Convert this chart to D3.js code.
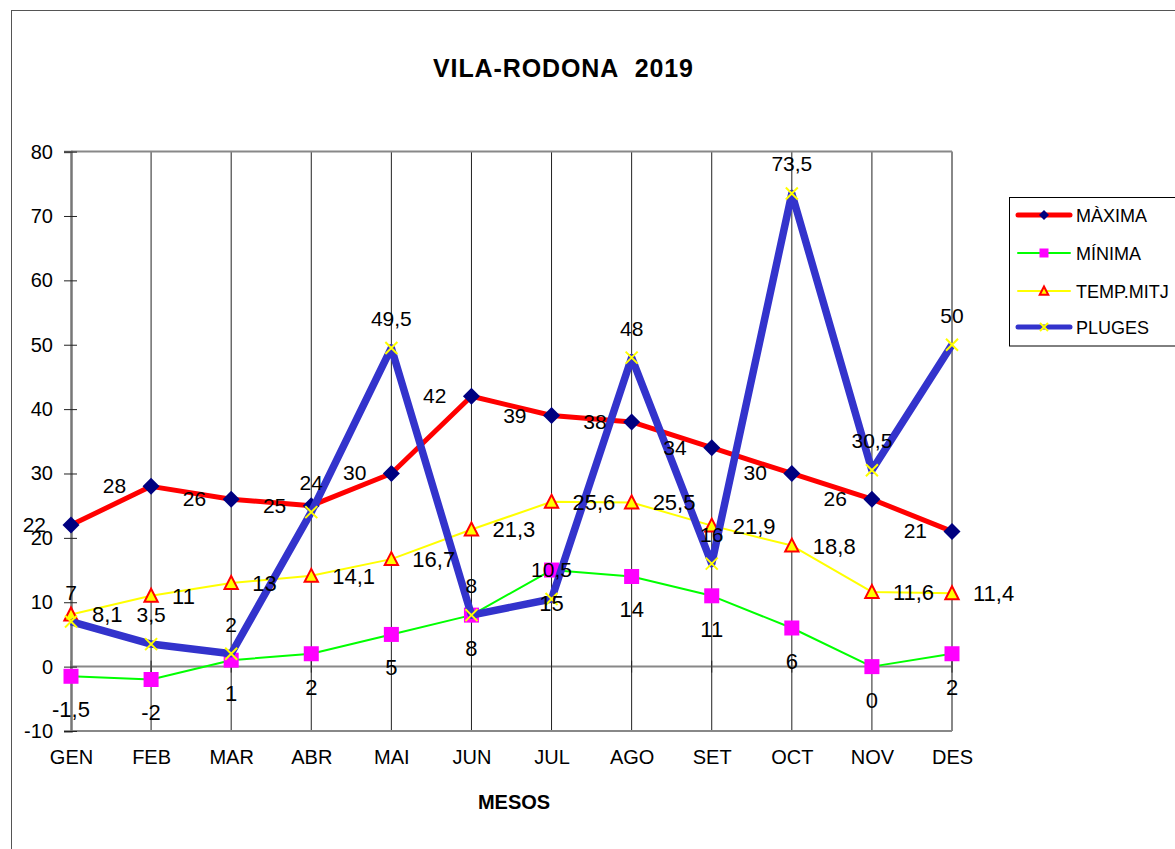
<!DOCTYPE html>
<html>
<head>
<meta charset="utf-8">
<script src="https://cdn.jsdelivr.net/npm/d3@7"></script>
<style>
  html, body { margin: 0; padding: 0; background: #fff; }
  svg { display: block; font-family: "Liberation Sans", Arial, sans-serif; }
</style>
</head>
<body>
<svg id="chart" width="1175" height="849"></svg>
<script>
const months = ["GEN","FEB","MAR","ABR","MAI","JUN","JUL","AGO","SET","OCT","NOV","DES"];
const maxima = [22, 28, 26, 25, 30, 42, 39, 38, 34, 30, 26, 21];
const minima = [-1.5, -2, 1, 2, 5, 8, 15, 14, 11, 6, 0, 2];
const tempMitj = [8.1, 11, 13, 14.1, 16.7, 21.3, 25.6, 25.5, 21.9, 18.8, 11.6, 11.4];
const pluges = [7, 3.5, 2, 24, 49.5, 8, 10.5, 48, 16, 73.5, 30.5, 50];
const yTicks = [-10, 0, 10, 20, 30, 40, 50, 60, 70, 80];
const seriesNames = ["MÀXIMA", "MÍNIMA", "TEMP.MITJ", "PLUGES"];
const titleText = "VILA-RODONA\u00A0\u00A02019";
const xTitle = "MESOS";

const svg = d3.select("#chart");
const x = d3.scalePoint().domain(months).range([71, 952]).padding(0);
const y = d3.scaleLinear().domain([-10, 80]).range([731, 151.6]);
const fmt = v => String(v).replace(".", ",");

// outer chart border
svg.append("rect").attr("x", 11.5).attr("y", 10.5).attr("width", 1300).attr("height", 1000)
  .attr("fill", "none").attr("stroke", "#555").attr("stroke-width", 1);

// title
svg.append("text").attr("x", 563).attr("y", 77).attr("text-anchor", "middle")
  .attr("font-size", 25).attr("font-weight", "bold")
  .attr("textLength", 260).attr("lengthAdjust", "spacing").text(titleText);

// vertical gridlines
const g = svg.append("g");
g.selectAll("line.vg").data(months.slice(1, 11)).join("line")
  .attr("x1", d => x(d)).attr("x2", d => x(d))
  .attr("y1", y(80)).attr("y2", y(-10))
  .attr("stroke", "#222").attr("stroke-width", 1);

// plot borders
g.append("line").attr("x1", 71).attr("x2", 952).attr("y1", y(80)).attr("y2", y(80))
  .attr("stroke", "#888").attr("stroke-width", 2);
g.append("line").attr("x1", 952).attr("x2", 952).attr("y1", y(80)).attr("y2", y(-10))
  .attr("stroke", "#888").attr("stroke-width", 2);
g.append("line").attr("x1", 71).attr("x2", 952).attr("y1", y(-10)).attr("y2", y(-10))
  .attr("stroke", "#888").attr("stroke-width", 2);
// zero line with crossing ticks
g.append("line").attr("x1", 71).attr("x2", 952).attr("y1", y(0)).attr("y2", y(0))
  .attr("stroke", "#888").attr("stroke-width", 2);
g.selectAll("line.zt").data(months).join("line")
  .attr("x1", d => x(d)).attr("x2", d => x(d))
  .attr("y1", y(0) - 6).attr("y2", y(0) + 6)
  .attr("stroke", "#222").attr("stroke-width", 1);

// y axis
const yAxis = d3.axisLeft(y).tickValues(yTicks).tickSize(7).tickPadding(11).tickFormat(d => d);
const ya = svg.append("g").attr("transform", "translate(71,0)").call(yAxis);
ya.select(".domain").attr("stroke", "#777").attr("stroke-width", 2.5);
ya.selectAll(".tick line").attr("stroke", "#222").attr("x2", -7).attr("x1", 6);
ya.selectAll(".tick text").attr("font-size", 20).attr("fill", "#000")
  .attr("font-family", "'Liberation Sans', Arial, sans-serif");

// x axis labels
const xAxis = d3.axisBottom(x).tickSize(0).tickPadding(0);
const xa = svg.append("g").attr("transform", `translate(0,${y(-10)})`).call(xAxis);
xa.select(".domain").remove();
xa.selectAll(".tick text").attr("font-size", 20).attr("fill", "#000").attr("dy", null)
  .attr("y", 33).attr("font-family", "'Liberation Sans', Arial, sans-serif");

// x title
svg.append("text").attr("x", 514).attr("y", 809).attr("text-anchor", "middle")
  .attr("font-size", 20).attr("font-weight", "bold").text(xTitle);

// series
const line = d3.line().x((d, i) => x(months[i])).y(d => y(d));

function drawSeries(vals, color, width, markerFn) {
  const sg = svg.append("g");
  sg.append("path").attr("d", line(vals)).attr("fill", "none")
    .attr("stroke", color).attr("stroke-width", width).attr("stroke-linejoin", "round");
  vals.forEach((v, i) => markerFn(sg.append("g").attr("transform", `translate(${x(months[i])},${y(v)})`)));
}

const diamond = (s, big) => s.append("path").attr("d", `M0,${-big}L${big},0L0,${big}L${-big},0Z`).attr("fill", "#000080");
const square = (s, h) => s.append("rect").attr("x", -h).attr("y", -h).attr("width", 2 * h).attr("height", 2 * h).attr("fill", "#FF00FF");
const triangle = (s, h) => s.append("path").attr("d", `M0,${-h}L${h * 0.95},${h * 0.85}L${-h * 0.95},${h * 0.85}Z`)
  .attr("fill", "#FFFF00").attr("stroke", "#FF0000").attr("stroke-width", 2);
const cross = (s, h) => s.append("path").attr("d", `M${-h},${-h}L${h},${h}M${-h},${h}L${h},${-h}`)
  .attr("stroke", "#FFFF00").attr("stroke-width", 2).attr("fill", "none");

drawSeries(maxima, "#FF0000", 5, s => diamond(s, 8.5));
drawSeries(minima, "#00FF00", 2, s => square(s, 7.5));
drawSeries(tempMitj, "#FFFF00", 2, s => triangle(s, 7));
drawSeries(pluges, "#3333CC", 7.5, s => cross(s, 6));

// data labels
const lab = svg.append("g").attr("fill", "#000");
lab.selectAll("text.mx").data(maxima).join("text")
  .attr("x", (d, i) => x(months[i]) - 25).attr("y", d => y(d) + 7)
  .attr("text-anchor", "end").attr("font-size", 21).text(fmt);
lab.selectAll("text.mn").data(minima).join("text")
  .attr("x", (d, i) => x(months[i])).attr("y", d => y(d) + 41)
  .attr("text-anchor", "middle").attr("font-size", 22).text(fmt);
lab.selectAll("text.tm").data(tempMitj).join("text")
  .attr("x", (d, i) => x(months[i]) + 21).attr("y", d => y(d) + 8)
  .attr("text-anchor", "start").attr("font-size", 22).text(fmt);
lab.selectAll("text.pl").data(pluges).join("text")
  .attr("x", (d, i) => x(months[i])).attr("y", d => y(d) - 22)
  .attr("text-anchor", "middle").attr("font-size", 21).text(fmt);

// legend
const lg = svg.append("g");
lg.append("rect").attr("x", 1009.5).attr("y", 197.5).attr("width", 200).attr("height", 148.5)
  .attr("fill", "#fff").attr("stroke", "#000").attr("stroke-width", 1);
const legendRows = [215, 253, 291, 327];
const legendStyle = [
  { c: "#FF0000", w: 5, m: s => diamond(s, 5) },
  { c: "#00FF00", w: 2, m: s => square(s, 4.5) },
  { c: "#FFFF00", w: 2, m: s => triangle(s, 4.5) },
  { c: "#3333CC", w: 5, m: s => cross(s, 4) }
];
seriesNames.forEach((name, i) => {
  const yy = legendRows[i];
  lg.append("line").attr("x1", 1018).attr("x2", 1070).attr("y1", yy).attr("y2", yy)
    .attr("stroke", legendStyle[i].c).attr("stroke-width", legendStyle[i].w).attr("stroke-linecap", "round");
  legendStyle[i].m(lg.append("g").attr("transform", `translate(1044,${yy})`));
  lg.append("text").attr("x", 1076).attr("y", yy + 6.5).attr("font-size", 18).text(name);
});
</script>
</body>
</html>
